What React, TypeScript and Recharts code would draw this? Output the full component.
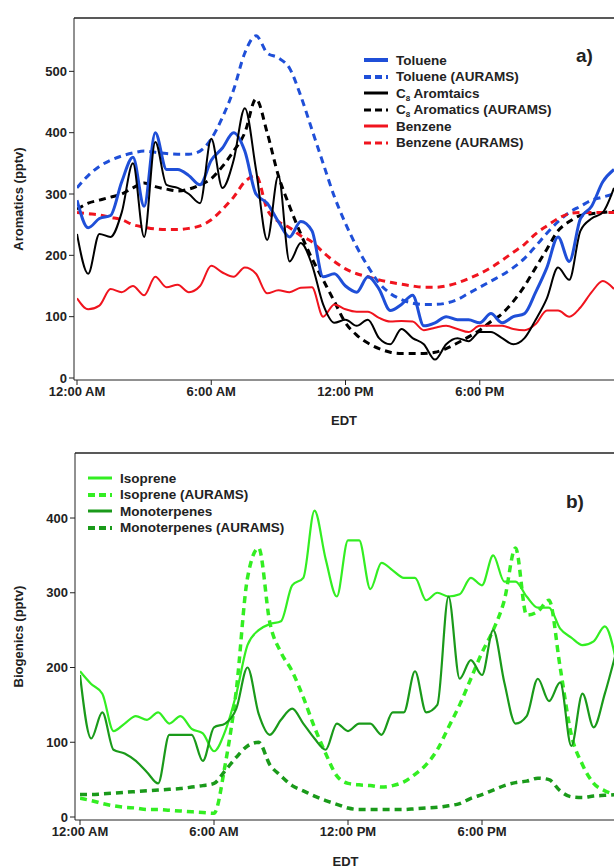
import React from 'react';
import { LineChart, Line, XAxis, YAxis, ReferenceLine } from 'recharts';

// half-hour sample times, 0..24 h EDT
const hours = Array.from({ length: 49 }, (_, i) => i / 2);
const hourTicks = [0, 6, 12, 18];
const hourLabels: Record<number, string> = { 0: '12:00 AM', 6: '6:00 AM', 12: '12:00 PM', 18: '6:00 PM' };

// panel a) aromatics, pptv
const toluene = [290, 245, 260, 265, 320, 360, 280, 400, 340, 340, 330, 315, 355, 375, 400, 370, 300, 285, 255, 230, 255, 240, 165, 170, 150, 140, 165, 145, 110, 120, 135, 85, 90, 100, 95, 95, 90, 105, 90, 100, 105, 140, 180, 230, 190, 260, 280, 320, 340];
const tolueneModel = [310, 330, 345, 355, 362, 367, 370, 368, 366, 365, 365, 370, 390, 425, 470, 530, 558, 530, 522, 505, 460, 405, 350, 296, 252, 214, 182, 155, 138, 128, 122, 120, 120, 122, 128, 138, 148, 158, 168, 180, 195, 215, 236, 255, 270, 280, 290, 295, 300];
const c8 = [235, 170, 235, 230, 270, 350, 230, 385, 315, 310, 300, 285, 390, 310, 355, 440, 340, 225, 330, 190, 220, 185, 120, 90, 95, 85, 95, 65, 55, 80, 65, 55, 30, 55, 65, 60, 75, 75, 65, 55, 65, 95, 130, 180, 160, 240, 260, 270, 310];
const c8Model = [275, 285, 290, 295, 300, 310, 318, 312, 308, 305, 308, 315, 325, 345, 370, 400, 455, 400, 330, 280, 235, 195, 160, 125, 90, 70, 57, 48, 42, 40, 40, 40, 42, 48, 57, 67, 78, 92, 105, 125, 150, 180, 210, 240, 255, 265, 268, 270, 272];
const benzene = [130, 112, 118, 145, 140, 150, 135, 165, 148, 152, 140, 150, 183, 172, 165, 180, 170, 138, 143, 140, 147, 148, 100, 120, 112, 108, 108, 98, 92, 93, 92, 78, 82, 85, 80, 75, 85, 85, 85, 80, 78, 88, 110, 110, 100, 115, 140, 158, 145];
const benzeneModel = [270, 268, 266, 262, 258, 250, 246, 243, 242, 242, 244, 248, 258, 275, 295, 320, 330, 275, 255, 245, 232, 222, 205, 190, 178, 170, 165, 160, 156, 153, 150, 148, 148, 150, 155, 162, 170, 180, 192, 205, 218, 235, 248, 260, 268, 270, 270, 270, 270];

// panel b) biogenics, pptv
const isoprene = [195, 178, 165, 115, 125, 135, 130, 140, 125, 135, 118, 112, 88, 115, 165, 230, 250, 258, 262, 310, 320, 410, 345, 295, 370, 370, 305, 340, 330, 320, 320, 290, 300, 295, 298, 320, 310, 350, 315, 315, 295, 280, 280, 252, 240, 230, 235, 255, 210];
const isopreneModel = [25, 22, 18, 15, 13, 12, 10, 10, 9, 8, 7, 6, 5, 70, 170, 320, 360, 260, 220, 195, 160, 120, 85, 55, 45, 43, 42, 40, 42, 47, 57, 70, 90, 120, 150, 185, 220, 250, 290, 360, 270, 275, 290, 200, 110, 70, 45, 35, 30];
const mono = [190, 105, 140, 90, 85, 75, 60, 45, 110, 110, 110, 75, 120, 125, 145, 200, 138, 110, 130, 145, 125, 105, 90, 125, 115, 125, 125, 110, 140, 140, 195, 140, 150, 295, 185, 210, 190, 250, 180, 125, 135, 185, 155, 180, 95, 165, 120, 165, 220];
const monoModel = [30, 30, 31, 32, 33, 34, 35, 36, 37, 38, 40, 42, 45, 62, 80, 95, 100, 70, 55, 42, 35, 28, 22, 17, 12, 10, 10, 10, 10, 10, 11, 12, 13, 15, 18, 25, 30, 36, 42, 46, 48, 52, 50, 35, 27, 26, 28, 29, 30];

const aromaticsRows = hours.map((h, i) => ({
  h, toluene: toluene[i], tolueneModel: tolueneModel[i], c8: c8[i], c8Model: c8Model[i], benzene: benzene[i], benzeneModel: benzeneModel[i],
}));
const biogenicRows = hours.map((h, i) => ({
  h, isoprene: isoprene[i], isopreneModel: isopreneModel[i], mono: mono[i], monoModel: monoModel[i],
}));

const BLUE = '#1f4fd8';
const RED = '#f0141e';
const LIGHT = '#33ee22';
const DARK = '#1a9a1a';
const FONT = '"Liberation Sans", Arial, sans-serif';
const DASH = '7 5';

const tickStyle = { fontFamily: FONT, fontSize: 13, fontWeight: 700, fill: '#222' };

function LegendRow({ color, dashed, width, label }: { color: string; dashed?: boolean; width: number; label: React.ReactNode }) {
  return (
    <div style={{ display: 'flex', alignItems: 'center', height: 16.5, whiteSpace: 'nowrap' }}>
      <svg width={26} height={8} style={{ marginRight: 6 }}>
        <line x1={0} y1={4} x2={24} y2={4} stroke={color} strokeWidth={width} strokeDasharray={dashed ? '7 4' : undefined} />
      </svg>
      <span>{label}</span>
    </div>
  );
}

const C8 = ({ tail }: { tail: string }) => (
  <>C<span style={{ fontSize: 8, position: 'relative', top: 3 }}>8</span>{tail}</>
);

export default function App() {
  const legendStyle: React.CSSProperties = { position: 'absolute', fontFamily: FONT, fontSize: 13.5, fontWeight: 700, color: '#222', lineHeight: 1 };
  return (
    <div style={{ position: 'absolute', left: 0, top: 0, width: 614, height: 868, overflow: 'hidden', background: '#fff' }}>
      <div style={{ position: 'absolute', left: 0, top: 0 }}>
        <LineChart width={640} height={430} data={aromaticsRows} margin={{ top: 18, right: 26, left: 0, bottom: 0 }}>
          <XAxis dataKey="h" type="number" domain={[0, 24]} ticks={hourTicks} tickFormatter={(v) => hourLabels[v]}
            padding={{ left: 3, right: 0 }} height={50} tick={tickStyle} tickSize={5} stroke="#222" allowDataOverflow
            label={{ value: 'EDT', position: 'insideBottom', offset: 5, style: tickStyle }} />
          <YAxis type="number" domain={[0, 587]} ticks={[0, 100, 200, 300, 400, 500]} width={74} padding={{ bottom: 2 }}
            tick={tickStyle} tickSize={5} stroke="#222" allowDataOverflow
            label={{ value: 'Aromatics (pptv)', angle: -90, position: 'insideLeft', offset: 18, style: { ...tickStyle, textAnchor: 'middle' } }} />
          <ReferenceLine y={587} stroke="#222" strokeWidth={1.5} />
          <Line dataKey="tolueneModel" stroke={BLUE} strokeWidth={3} strokeDasharray={DASH} dot={false} type="monotone" isAnimationActive={false} />
          <Line dataKey="c8Model" stroke="#000" strokeWidth={3} strokeDasharray={DASH} dot={false} type="monotone" isAnimationActive={false} />
          <Line dataKey="benzeneModel" stroke={RED} strokeWidth={3} strokeDasharray={DASH} dot={false} type="monotone" isAnimationActive={false} />
          <Line dataKey="benzene" stroke={RED} strokeWidth={2} dot={false} type="monotone" isAnimationActive={false} />
          <Line dataKey="toluene" stroke={BLUE} strokeWidth={3} dot={false} type="monotone" isAnimationActive={false} />
          <Line dataKey="c8" stroke="#000" strokeWidth={2} dot={false} type="monotone" isAnimationActive={false} />
        </LineChart>
      </div>
      <div style={{ ...legendStyle, left: 364, top: 52 }}>
        <LegendRow color={BLUE} width={4} label="Toluene" />
        <LegendRow color={BLUE} width={4} dashed label="Toluene (AURAMS)" />
        <LegendRow color="#000" width={3} label={<C8 tail=" Aromtaics" />} />
        <LegendRow color="#000" width={3} dashed label={<C8 tail=" Aromatics (AURAMS)" />} />
        <LegendRow color={RED} width={3} label="Benzene" />
        <LegendRow color={RED} width={3} dashed label="Benzene (AURAMS)" />
      </div>
      <div style={{ ...legendStyle, left: 576, top: 46, fontSize: 19 }}>a)</div>

      <div style={{ position: 'absolute', left: 0, top: 440 }}>
        <LineChart width={640} height={428} data={biogenicRows} margin={{ top: 13, right: 24, left: 0, bottom: 0 }}>
          <XAxis dataKey="h" type="number" domain={[0, 24]} ticks={hourTicks} tickFormatter={(v) => hourLabels[v]}
            padding={{ left: 5, right: 0 }} height={48} tick={tickStyle} tickSize={5} stroke="#222" allowDataOverflow
            label={{ value: 'EDT', position: 'insideBottom', offset: 2, style: tickStyle }} />
          <YAxis type="number" domain={[0, 487]} ticks={[0, 100, 200, 300, 400]} width={75} padding={{ bottom: 3 }}
            tick={tickStyle} tickSize={5} stroke="#222" allowDataOverflow
            label={{ value: 'Biogenics (pptv)', angle: -90, position: 'insideLeft', offset: 18, style: { ...tickStyle, textAnchor: 'middle' } }} />
          <ReferenceLine y={487} stroke="#222" strokeWidth={1.5} />
          <Line dataKey="isopreneModel" stroke={LIGHT} strokeWidth={3.5} strokeDasharray={DASH} dot={false} type="monotone" isAnimationActive={false} />
          <Line dataKey="monoModel" stroke={DARK} strokeWidth={3.5} strokeDasharray={DASH} dot={false} type="monotone" isAnimationActive={false} />
          <Line dataKey="isoprene" stroke={LIGHT} strokeWidth={2.2} dot={false} type="monotone" isAnimationActive={false} />
          <Line dataKey="mono" stroke={DARK} strokeWidth={2.2} dot={false} type="monotone" isAnimationActive={false} />
        </LineChart>
      </div>
      <div style={{ ...legendStyle, left: 88, top: 470 }}>
        <LegendRow color={LIGHT} width={3} label="Isoprene" />
        <LegendRow color={LIGHT} width={4} dashed label="Isoprene (AURAMS)" />
        <LegendRow color={DARK} width={3} label="Monoterpenes" />
        <LegendRow color={DARK} width={4} dashed label="Monoterpenes (AURAMS)" />
      </div>
      <div style={{ ...legendStyle, left: 566, top: 492, fontSize: 19 }}>b)</div>
    </div>
  );
}
